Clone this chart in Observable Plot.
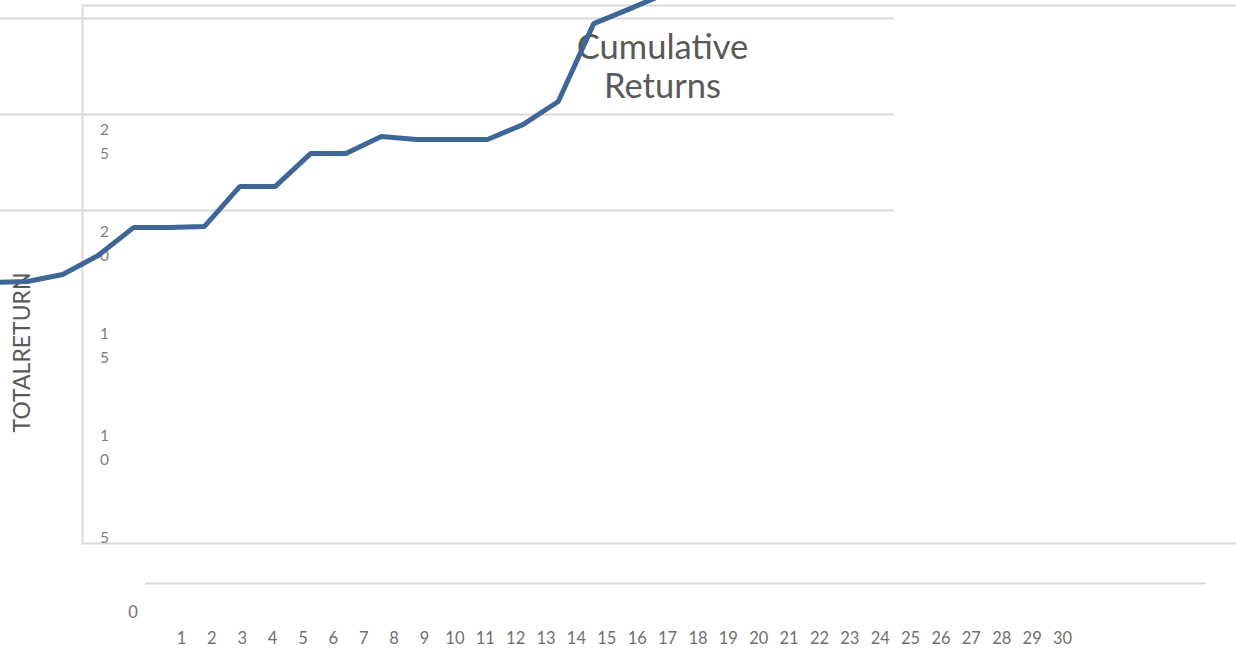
<!DOCTYPE html>
<html><head><meta charset="utf-8">
<script src="https://cdn.jsdelivr.net/npm/d3@7"></script>
<script src="https://cdn.jsdelivr.net/npm/@observablehq/plot@0.6"></script>
<style>
html,body{margin:0;padding:0;background:#fff;}
#wrap{position:relative;width:1236px;height:649px;overflow:hidden;background:#fff;}
#wrap svg{position:absolute;left:0;top:0;background:transparent;}
</style></head><body><div id="wrap"></div>
<script>
// ---- data ----
const periods = [0, 1, 2, 3, 4, 5, 6, 7, 8, 9, 10, 11, 12, 13, 14, 15, 16, 17, 18, 19];
const totalReturn = [17.06, 17.11, 17.45, 18.38, 19.75, 19.75, 19.80, 21.76, 21.76, 23.38, 23.38, 24.22, 24.07, 24.07, 24.07, 24.80, 25.93, 29.75, 30.46, 31.2];
const yTicks = [25, 20, 15, 10, 5];
const xLabels = [1, 2, 3, 4, 5, 6, 7, 8, 9, 10, 11, 12, 13, 14, 15, 16, 17, 18, 19, 20, 21, 22, 23, 24, 25, 26, 27, 28, 29, 30];
const zeroLabel = [0];
const gridValues = [30, 25.29, 20.59];
const titleText = ["Cumulative\nReturns"];
const yTitle = ["TOTALRETURN"];
const yTitleAt = 13.63;

const series = periods.map((p, i) => ({period: p, value: totalReturn[i]}));
const font = "Lato, 'Open Sans', sans-serif";

const main = Plot.plot({
  width: 1236, height: 649,
  marginLeft: 82, marginTop: 5, marginRight: -6, marginBottom: 106,
  style: {fontFamily: font, background: "transparent"},
  x: {domain: [0, 19], range: [-8.6, 664], axis: null},
  y: {domain: [5, 25], range: [528, 120], axis: null},
  marks: [
    Plot.ruleY(gridValues, {x1: 0, x2: 25.5, stroke: "#d9d9d9", strokeWidth: 2}),
    Plot.frame({stroke: "#d9d9d9", strokeWidth: 2}),
    Plot.text(yTicks, {y: d => d, text: d => String(d).split("").join("\n"), frameAnchor: "left", dx: 22, dy: -3,
      textAnchor: "middle", lineAnchor: "top", lineHeight: 1.55, fontSize: 15.5, fill: "#808080"}),
    Plot.text(titleText, {frameAnchor: "top", dy: 26, lineAnchor: "top", lineHeight: 1.12, fontSize: 34.5, fill: "#595959"}),
    Plot.text(yTitle, {y: () => yTitleAt, frameAnchor: "left", dx: -60, textAnchor: "middle", rotate: -90, fontSize: 23, fill: "#595959"}),
    Plot.line(series, {x: "period", y: "value", stroke: "#3e6697", strokeWidth: 5, strokeLinejoin: "miter", strokeLinecap: "butt"})
  ]
});

const axis = Plot.plot({
  width: 1236, height: 649,
  marginLeft: 145, marginRight: 30, marginTop: 0, marginBottom: 66,
  style: {fontFamily: font, background: "transparent"},
  x: {domain: [1, 30], range: [181, 1062], axis: null},
  y: {domain: [0, 1], axis: null},
  marks: [
    Plot.ruleY([0], {stroke: "#d9d9d9", strokeWidth: 2}),
    Plot.text(xLabels, {x: d => d, y: 0, dy: 55, fontSize: 16.5, fill: "#707070"}),
    Plot.text(zeroLabel, {x: d => d, y: 0, dx: -18, dy: 29, fontSize: 16.5, fill: "#707070"})
  ]
});

const wrap = document.getElementById("wrap");
wrap.appendChild(main);
wrap.appendChild(axis);
</script></body></html>
